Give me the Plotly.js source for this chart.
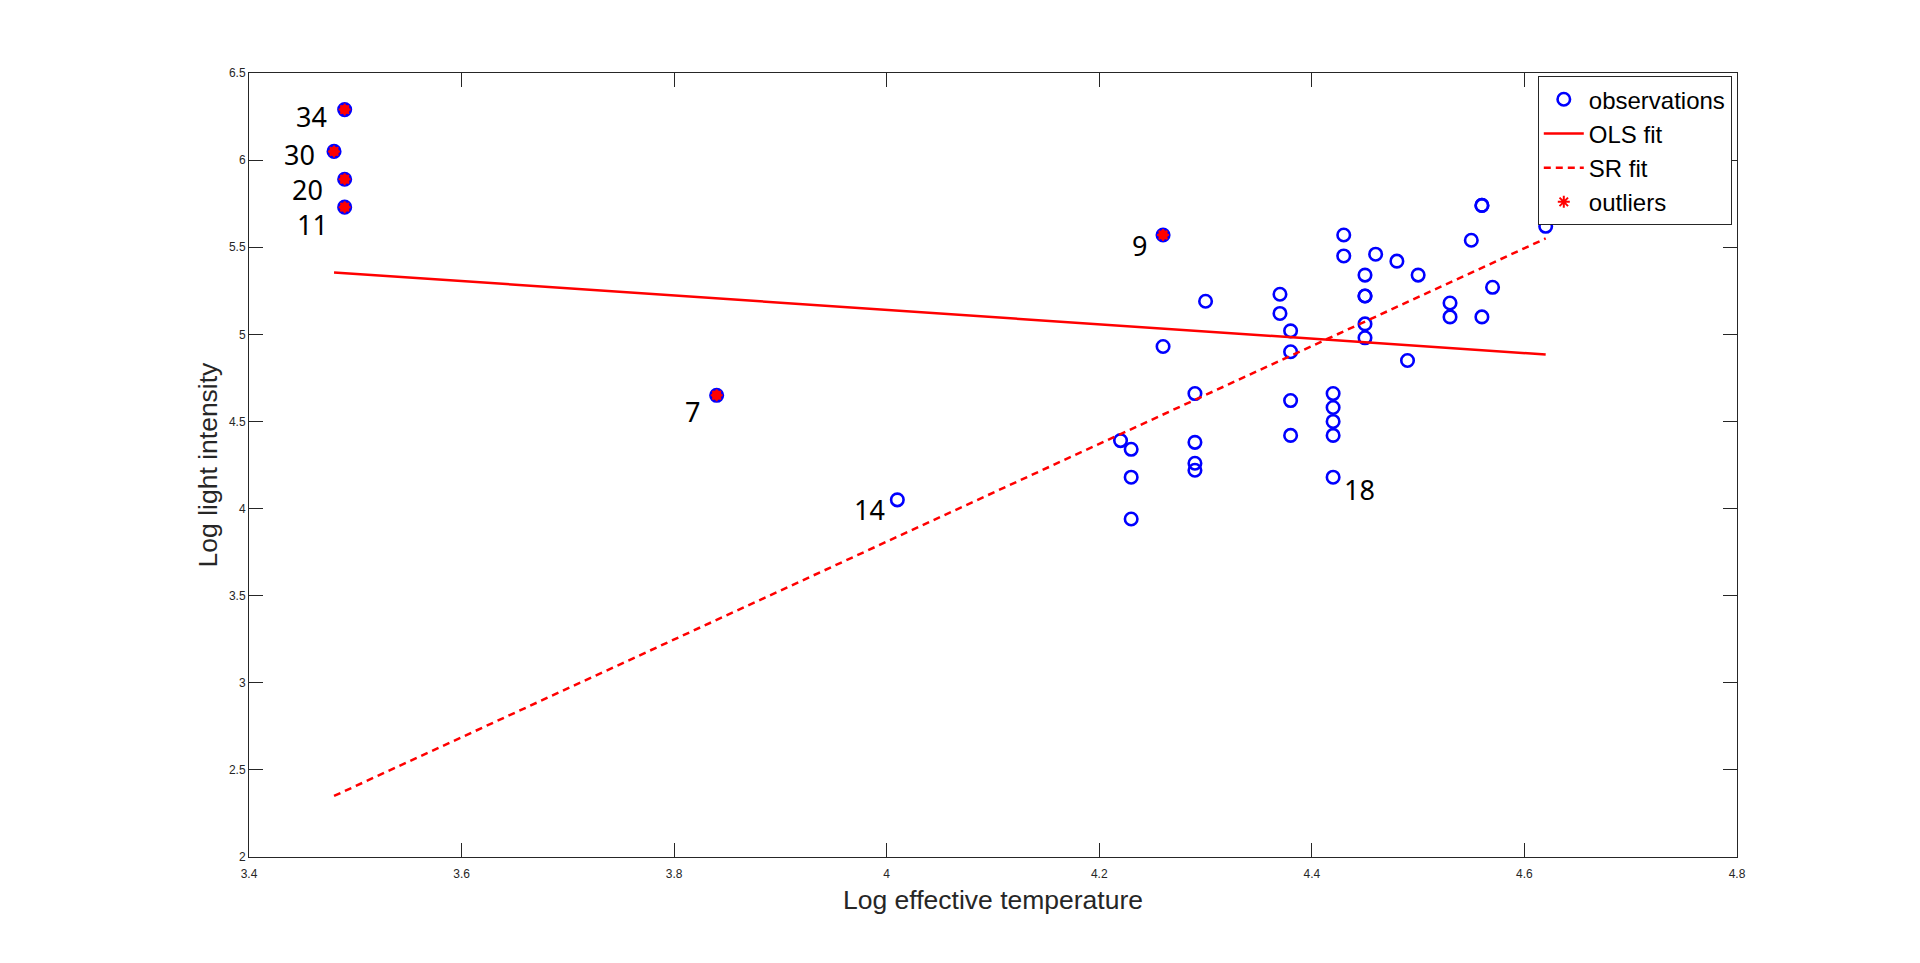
<!DOCTYPE html>
<html>
<head>
<meta charset="utf-8">
<script src="https://cdn.plot.ly/plotly-3.0.1.min.js"></script>
<style>
  html, body { margin: 0; padding: 0; background: #ffffff; }
  #chart { width: 1920px; height: 963px; }
</style>
</head>
<body>
<div id="chart"></div>
<script>
// Hertzsprung-Russell data for the star cluster CYG OB1 (47 stars)
const starId = [1,2,3,4,5,6,7,8,9,10,11,12,13,14,15,16,17,18,19,20,21,22,23,24,25,26,27,28,29,30,31,32,33,34,35,36,37,38,39,40,41,42,43,44,45,46,47];
const logTemp = [4.37,4.56,4.26,4.56,4.30,4.46,3.84,4.57,4.26,4.37,3.49,4.43,4.48,4.01,4.29,4.42,4.23,4.42,4.23,3.49,4.29,4.29,4.42,4.49,4.38,4.42,4.29,4.38,4.22,3.48,4.38,4.56,4.45,3.49,4.23,4.62,4.53,4.45,4.53,4.43,4.38,4.45,4.50,4.45,4.55,4.45,4.42];
const logLight = [5.23,5.74,4.93,5.74,5.19,5.46,4.65,5.27,5.57,5.12,5.73,5.45,5.42,4.05,4.26,4.58,3.94,4.18,4.18,5.89,4.38,4.22,4.42,4.85,5.02,4.66,4.66,4.90,4.39,6.05,4.42,5.10,5.22,6.29,4.34,5.62,5.10,5.22,5.18,5.57,4.62,5.06,5.34,5.34,5.54,4.98,4.50];

// stars flagged as outliers by the robust fit
const outlierIds = [7, 9, 11, 20, 30, 34];
// stars whose number is written next to the marker
const labelledIds = [34, 30, 20, 11, 9, 7, 14, 18];

// robust (SR) fit coefficients: intercept, slope
const srCoef = [-7.418, 2.807];

// label placement offsets in pixels (dx, dy) relative to each star
const labelShift = {34: [-33, -7], 30: [-35, -3], 20: [-37, -10], 11: [-32, -17],
                    9: [-24, -10], 7: [-24, -16], 14: [-28, -10], 18: [26, -12]};

// ordinary least squares fit of light on temperature
function olsFit(x, y) {
  const n = x.length;
  const mx = x.reduce((a, b) => a + b, 0) / n;
  const my = y.reduce((a, b) => a + b, 0) / n;
  let sxy = 0, sxx = 0;
  for (let i = 0; i < n; i++) {
    sxy += (x[i] - mx) * (y[i] - my);
    sxx += (x[i] - mx) * (x[i] - mx);
  }
  const b = sxy / sxx;
  return [my - b * mx, b];
}

const olsCoef = olsFit(logTemp, logLight);
const xMin = Math.min(...logTemp);
const xMax = Math.max(...logTemp);
const lineX = [xMin, xMax];
const olsY = lineX.map(v => olsCoef[0] + olsCoef[1] * v);
const srY = lineX.map(v => srCoef[0] + srCoef[1] * v);

const outX = outlierIds.map(id => logTemp[id - 1]);
const outY = outlierIds.map(id => logLight[id - 1]);

const blue = '#0000ff';
const red = '#ff0000';
const ink = '#262626';

const traces = [
  { // red fill underneath the outlier rings
    x: outX, y: outY, type: 'scatter', mode: 'markers',
    marker: { symbol: 'circle', size: 12, color: red, line: { width: 0 } },
    showlegend: false, hoverinfo: 'skip'
  },
  {
    x: logTemp, y: logLight, type: 'scatter', mode: 'markers', name: 'observations',
    marker: { symbol: 'circle-open', size: 12.5, color: blue, line: { color: blue, width: 2.6 } },
    legendrank: 1
  },
  {
    x: lineX, y: olsY, type: 'scatter', mode: 'lines', name: 'OLS fit',
    line: { color: red, width: 2.5 }, legendrank: 2
  },
  {
    x: lineX, y: srY, type: 'scatter', mode: 'lines', name: 'SR fit',
    line: { color: red, width: 2.5, dash: '7px,5px' }, legendrank: 3
  },
  {
    x: outX, y: outY, type: 'scatter', mode: 'markers', name: 'outliers',
    marker: { symbol: 'asterisk-open', size: 10, color: red, line: { color: red, width: 2 } },
    legendrank: 4
  }
];

const annotations = labelledIds.map(id => ({
  x: logTemp[id - 1], y: logLight[id - 1], xref: 'x', yref: 'y',
  text: String(id), showarrow: false,
  xanchor: 'center', yanchor: 'middle',
  xshift: labelShift[id][0], yshift: labelShift[id][1],
  font: { family: 'Noto Sans, Open Sans, sans-serif', size: 27, color: '#000000' }
}));

const axisCommon = {
  showline: true, mirror: 'ticks', linecolor: ink, linewidth: 1,
  ticks: 'inside', ticklen: 14, tickwidth: 1, tickcolor: ink,
  showgrid: false, zeroline: false,
  tickfont: { family: 'Liberation Sans, Arial, sans-serif', size: 12, color: ink }
};

const layout = {
  width: 1920, height: 963,
  paper_bgcolor: '#ffffff', plot_bgcolor: '#ffffff',
  margin: { l: 249, r: 183, t: 73, b: 106, pad: 0 },
  showlegend: true,
  xaxis: Object.assign({}, axisCommon, {
    range: [3.4, 4.8], dtick: 0.2, tick0: 3.4,
    ticklabelstandoff: 6,
    title: { text: 'Log effective temperature', standoff: 10,
             font: { family: 'Liberation Sans, Arial, sans-serif', size: 26.5, color: ink } }
  }),
  yaxis: Object.assign({}, axisCommon, {
    range: [2, 6.5], dtick: 0.5, tick0: 2,
    title: { text: 'Log light intensity', standoff: 3,
             font: { family: 'Liberation Sans, Arial, sans-serif', size: 26.5, color: ink } }
  }),
  legend: {
    x: 0.9965, y: 0.996, xanchor: 'right', yanchor: 'top',
    bgcolor: '#ffffff', bordercolor: ink, borderwidth: 1,
    font: { family: 'Liberation Sans, Arial, sans-serif', size: 24, color: '#000000' },
    tracegroupgap: 0, itemwidth: 40
  },
  annotations: annotations
};

Plotly.newPlot('chart', traces, layout, { staticPlot: true, displayModeBar: false });
</script>
</body>
</html>
